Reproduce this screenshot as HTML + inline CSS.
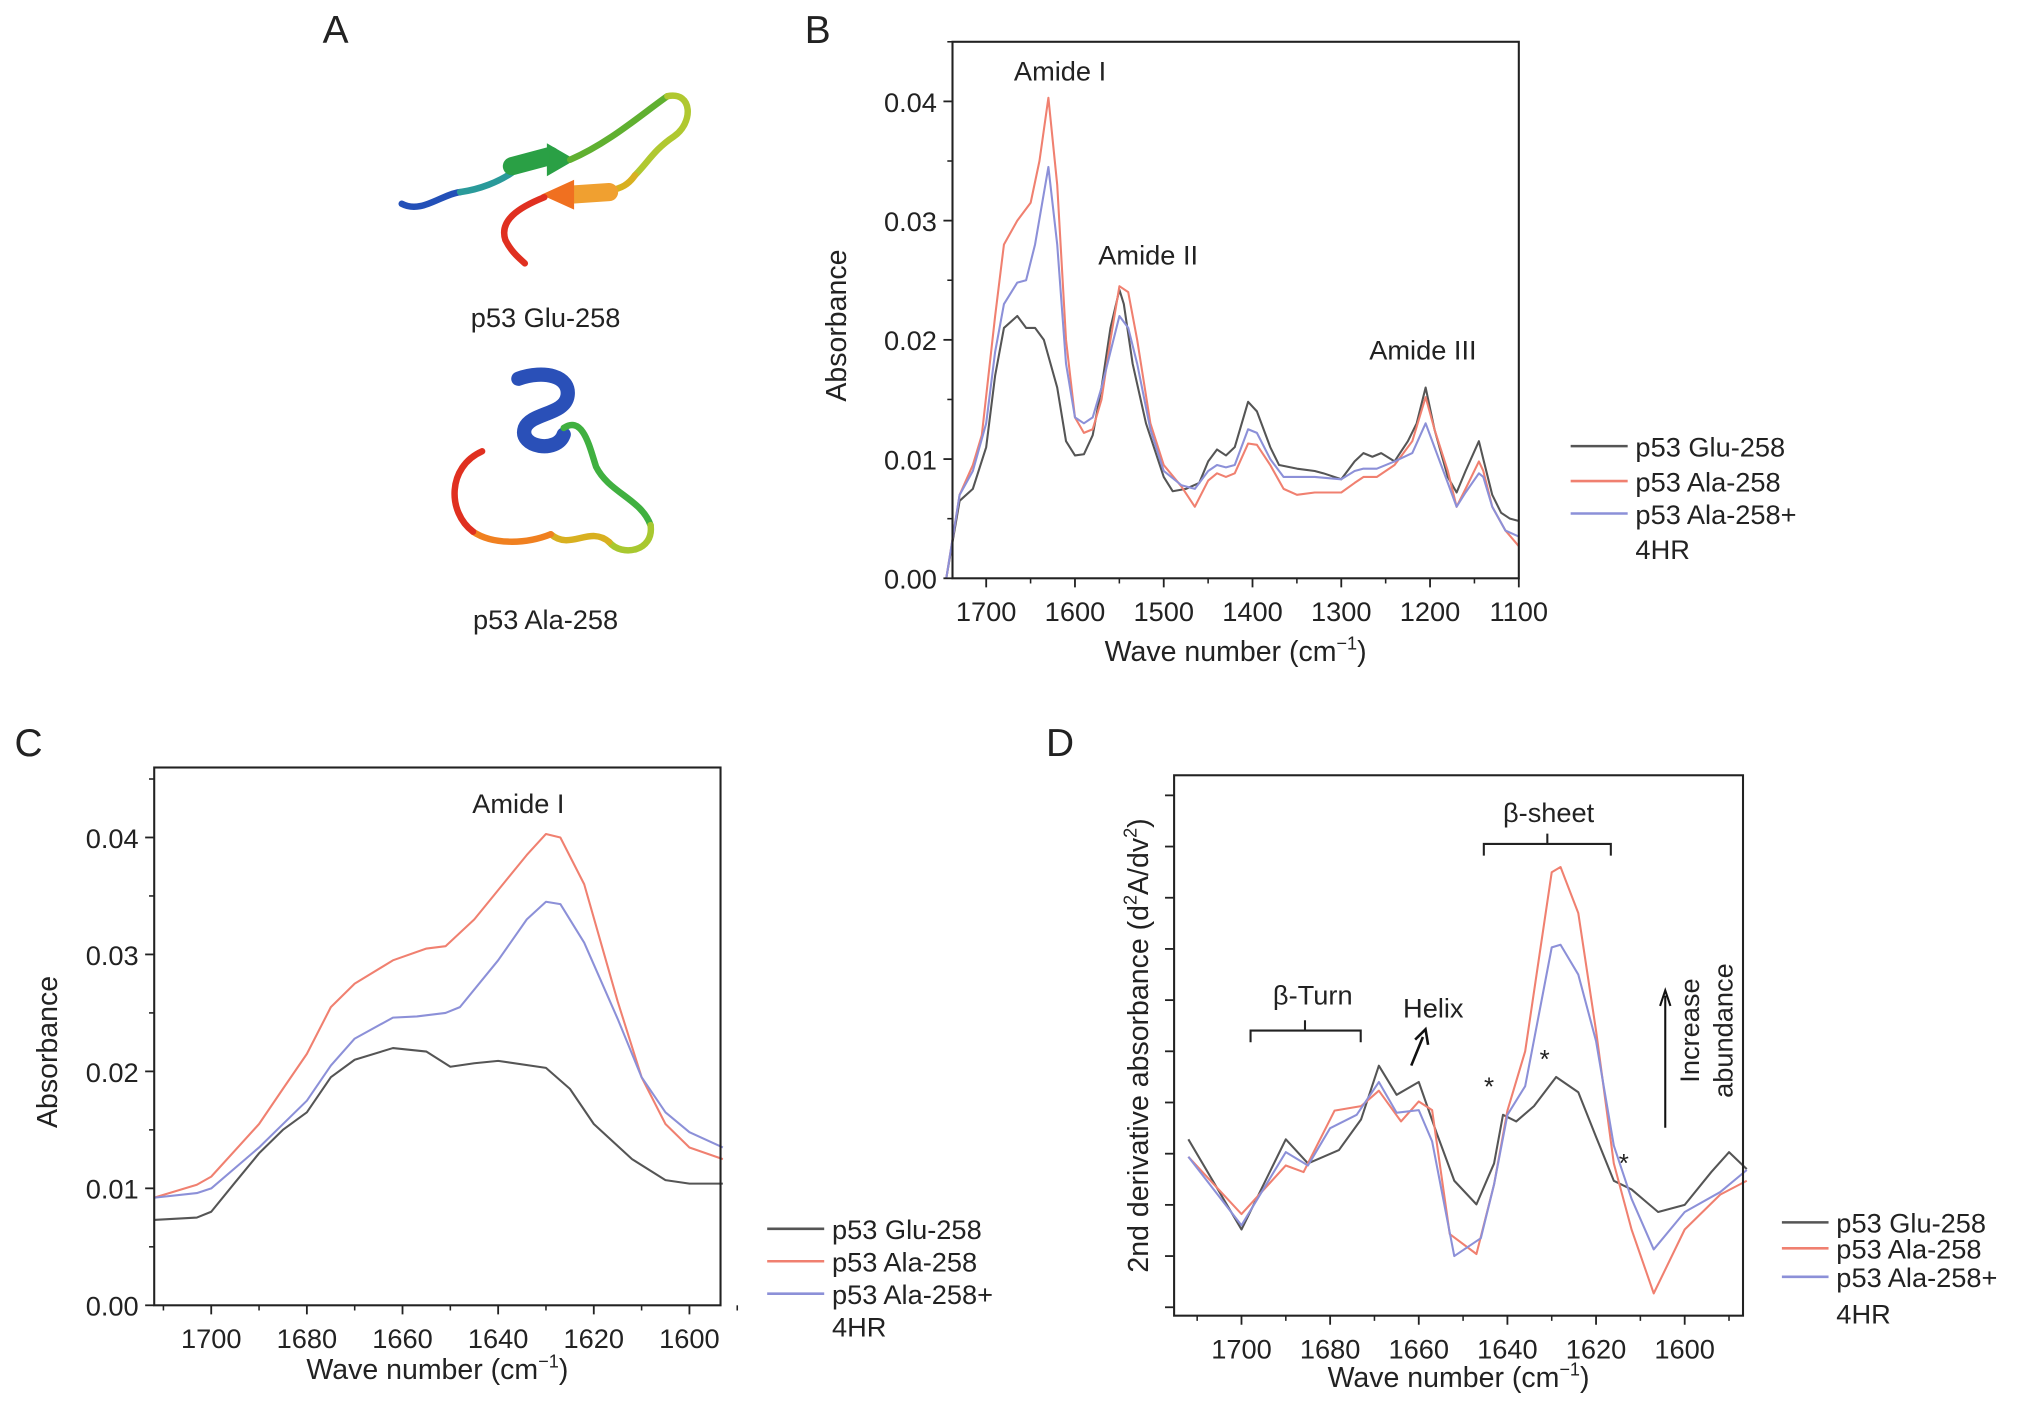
<!DOCTYPE html>
<html><head><meta charset="utf-8">
<style>
html,body{margin:0;padding:0;background:#fff;}
svg{display:block;font-family:"Liberation Sans","DejaVu Sans",sans-serif;}
text{fill:#222;}
</style></head>
<body>
<svg id="fig" width="2032" height="1408" viewBox="0 0 1568 1086" xmlns="http://www.w3.org/2000/svg">
<g id="panelA">
<text x="259" y="33" font-size="30" text-anchor="middle">A</text>
<g fill="none" stroke-linecap="round" stroke-width="5">
<path d="M310,157 C325,165 340,150 355,148" stroke="#2350b8"/>
<path d="M355,148 C370,146 385,140 395,133" stroke="#2a9a9a"/>
<path d="M395,128 L425,120" stroke="#2aa045" stroke-width="14"/>
<path d="M423,112 L442,123 L423,134 Z" fill="#2aa045" stroke="#2aa045" stroke-width="2"/>
<path d="M440,123 C470,110 495,88 515,74" stroke="#60b030"/>
<path d="M515,74 C535,70 535,95 520,105 C505,115 500,125 490,135" stroke="#b0c830"/>
<path d="M490,135 C485,142 480,145 470,147" stroke="#d8b020"/>
<path d="M470,148 L440,150" stroke="#f0a030" stroke-width="14"/>
<path d="M442,140 L420,150 L442,160 Z" fill="#f07020" stroke="#f07020" stroke-width="2"/>
<path d="M420,152 C400,160 385,170 390,185 C395,195 402,200 405,203" stroke="#e03020"/>
</g>
<text x="421" y="252" font-size="21" text-anchor="middle">p53 Glu-258</text>
<g fill="none" stroke-linecap="round" stroke-width="5">
<path d="M400,292 C420,285 440,290 438,305 C436,320 410,318 405,330 C400,345 430,350 435,335" stroke="#2a50b8" stroke-width="11"/>
<path d="M435,330 C450,320 455,345 460,360 C470,380 495,385 502,405" stroke="#40b040"/>
<path d="M502,405 C505,425 480,430 470,418" stroke="#a8c830"/>
<path d="M470,418 C455,405 440,425 425,412" stroke="#d8b020"/>
<path d="M425,412 C405,420 380,420 365,410" stroke="#f08020"/>
<path d="M365,410 C345,395 345,360 372,348" stroke="#e03020"/>
</g>
<text x="421" y="485" font-size="21" text-anchor="middle">p53 Ala-258</text>
</g>
<g id="gB"></g>
<g id="gC"></g>
<g id="gD"></g>
</svg>
<script>
// ---------- Panel B data ----------
const bWaveGlu = [1745,1730,1715,1700,1690,1680,1665,1655,1645,1635,1620,1610,1600,1590,1580,1570,1560,1550,1545,1535,1520,1500,1490,1475,1460,1450,1440,1430,1420,1405,1395,1380,1370,1350,1330,1320,1300,1285,1275,1265,1255,1240,1225,1215,1205,1195,1180,1170,1160,1145,1140,1130,1120,1110,1100];
const bGlu = [0,0.0065,0.0075,0.011,0.017,0.021,0.022,0.021,0.021,0.020,0.016,0.0115,0.0103,0.0104,0.012,0.016,0.021,0.0242,0.023,0.018,0.013,0.0085,0.0073,0.0075,0.008,0.0098,0.0108,0.0103,0.011,0.0148,0.014,0.011,0.0095,0.0092,0.009,0.0088,0.0083,0.0098,0.0105,0.0102,0.0105,0.0098,0.0115,0.013,0.016,0.0125,0.0085,0.0072,0.009,0.0115,0.010,0.007,0.0055,0.005,0.0048];
const bWaveAla = [1745,1730,1715,1705,1690,1680,1665,1650,1640,1630,1620,1610,1600,1590,1580,1570,1560,1550,1540,1530,1515,1500,1480,1465,1450,1440,1430,1420,1405,1395,1380,1365,1350,1330,1300,1285,1275,1260,1240,1220,1205,1195,1180,1170,1160,1145,1140,1130,1115,1100];
const bAla = [0,0.007,0.0095,0.012,0.022,0.028,0.030,0.0315,0.035,0.0403,0.033,0.020,0.0135,0.0122,0.0125,0.015,0.020,0.0245,0.024,0.020,0.013,0.0095,0.0077,0.006,0.0082,0.0088,0.0085,0.0088,0.0113,0.0112,0.0095,0.0075,0.007,0.0072,0.0072,0.008,0.0085,0.0085,0.0095,0.0115,0.0152,0.0125,0.009,0.006,0.0075,0.0098,0.009,0.006,0.004,0.0027];
const bWaveHr = [1745,1730,1715,1700,1690,1680,1665,1655,1645,1630,1620,1610,1600,1590,1580,1570,1560,1550,1540,1530,1515,1500,1480,1465,1450,1440,1430,1420,1405,1395,1380,1365,1350,1330,1300,1285,1275,1260,1240,1220,1205,1195,1180,1170,1160,1145,1140,1130,1115,1100];
const bHr = [0,0.007,0.009,0.013,0.019,0.023,0.0248,0.025,0.028,0.0345,0.028,0.018,0.0135,0.013,0.0135,0.016,0.019,0.022,0.021,0.018,0.0125,0.009,0.0078,0.0075,0.009,0.0095,0.0093,0.0095,0.0125,0.0122,0.010,0.0085,0.0085,0.0085,0.0083,0.009,0.0092,0.0092,0.0098,0.0105,0.013,0.011,0.008,0.006,0.0072,0.0088,0.0085,0.006,0.004,0.0035];
const bXTicks = [1700,1600,1500,1400,1300,1200,1100];
const bYTicks = [0,0.01,0.02,0.03,0.04];
const bYTickLabels = ["0.00","0.01","0.02","0.03","0.04"];
// ---------- Panel C data ----------
const cWaveGlu = [1712,1703,1700,1695,1690,1685,1680,1675,1670,1662,1655,1650,1645,1640,1630,1625,1620,1612,1605,1600,1593];
const cGlu = [0.0073,0.0075,0.008,0.0105,0.013,0.015,0.0165,0.0195,0.021,0.022,0.0217,0.0204,0.0207,0.0209,0.0203,0.0185,0.0155,0.0125,0.0107,0.0104,0.0104];
const cWaveAla = [1712,1703,1700,1690,1685,1680,1675,1670,1662,1655,1651,1645,1640,1634,1630,1627,1622,1615,1610,1605,1600,1593];
const cAla = [0.0092,0.0103,0.011,0.0155,0.0185,0.0215,0.0255,0.0275,0.0295,0.0305,0.0307,0.033,0.0355,0.0385,0.0403,0.040,0.036,0.026,0.0195,0.0155,0.0135,0.0125];
const cWaveHr = [1712,1703,1700,1690,1680,1675,1670,1662,1657,1651,1648,1640,1634,1630,1627,1622,1615,1610,1605,1600,1593];
const cHr = [0.0092,0.0096,0.010,0.0135,0.0175,0.0205,0.0228,0.0246,0.0247,0.025,0.0255,0.0295,0.033,0.0345,0.0343,0.031,0.0245,0.0195,0.0165,0.0148,0.0135];
const cXTicks = [1700,1680,1660,1640,1620,1600];
const cYTicks = [0,0.01,0.02,0.03,0.04];
const cYTickLabels = ["0.00","0.01","0.02","0.03","0.04"];
// ---------- Panel D data (arbitrary units) ----------
const dWaveGlu = [1712,1700,1690,1685,1678,1673,1669,1665,1660,1656,1652,1647,1643,1641,1638,1634,1629,1624,1620,1616,1612,1606,1600,1594,1590,1586];
const dGlu = [0.28,-1.48,0.28,-0.19,0.07,0.67,1.72,1.15,1.4,0.41,-0.53,-0.99,-0.19,0.76,0.63,0.93,1.5,1.2,0.33,-0.53,-0.7,-1.14,-1.0,-0.36,0.03,-0.3];
const dWaveAla = [1712,1700,1690,1686,1679,1673,1669,1664,1660,1657,1653,1647,1643,1640,1636,1630,1628,1624,1620,1616,1612,1607,1600,1592,1586];
const dAla = [-0.06,-1.18,-0.23,-0.36,0.84,0.93,1.23,0.63,1.02,0.85,-1.57,-1.96,-0.6,0.84,2.0,5.5,5.6,4.7,2.4,-0.19,-1.48,-2.73,-1.48,-0.8,-0.53];
const dWaveHr = [1712,1700,1690,1685,1680,1674,1669,1665,1660,1657,1652,1646,1643,1640,1636,1630,1628,1624,1620,1616,1612,1607,1600,1592,1586];
const dHr = [-0.06,-1.4,0.03,-0.23,0.5,0.76,1.4,0.8,0.85,0.24,-2.0,-1.65,-0.6,0.76,1.32,4.03,4.08,3.5,2.2,0.16,-0.88,-1.87,-1.14,-0.75,-0.32];
const dXTicks = [1700,1680,1660,1640,1620,1600];
const dYTicks = [-3,-2,-1,0,1,2,3,4,5,6,7];

const NS = "http://www.w3.org/2000/svg";
const COL = {glu:"#555555", ala:"#f08070", hr:"#8c90d8"};
function mk(parent, tag, attrs, txt){
  const e = document.createElementNS(NS, tag);
  for (const k in attrs) e.setAttribute(k, attrs[k]);
  if (txt !== undefined) e.textContent = txt;
  parent.appendChild(e);
  return e;
}
function lin(d0,d1,r0,r1){ return v => r0 + (v-d0)/(d1-d0)*(r1-r0); }

function drawPanel(g, cfg){
  const {L,R,T,B,xs,ys} = cfg;
  // series
  cfg.series.forEach(s => {
    const pts = s.x.map((w,i)=> xs(w).toFixed(1)+","+ys(s.y[i]).toFixed(1)).join(" ");
    const pl = mk(g,"polyline",{points:pts,fill:"none",stroke:s.c,"stroke-width":1.6,"stroke-linejoin":"round"});
    
    
  });
  // frame
  const fr = mk(g,"rect",{x:L,y:T,width:R-L,height:B-T,fill:"none",stroke:"#222","stroke-width":1.6});
  
  
  // x ticks
  cfg.xTicks.forEach(v => {
    const x = xs(v);
    mk(g,"line",{x1:x,x2:x,y1:B,y2:B+7,stroke:"#222","stroke-width":1.4});
    const t = mk(g,"text",{x:x,y:B+33,"font-size":21,"text-anchor":"middle"},String(v));
    
    
  });
  cfg.xMinor.forEach(v => { const x = xs(v); mk(g,"line",{x1:x,x2:x,y1:B,y2:B+4,stroke:"#222","stroke-width":1.2}); });
  // y ticks
  cfg.yTicks.forEach((v,i) => {
    const y = ys(v);
    mk(g,"line",{x1:L-7,x2:L,y1:y,y2:y,stroke:"#222","stroke-width":1.4});
    if (cfg.yLabels){
      const t = mk(g,"text",{x:L-12,y:y+8,"font-size":21,"text-anchor":"end"},cfg.yLabels[i]);
      
      
    }
  });
  (cfg.yMinor||[]).forEach(v => { const y = ys(v); mk(g,"line",{x1:L-4,x2:L,y1:y,y2:y,stroke:"#222","stroke-width":1.2}); });
  // axis titles
  const xt = mk(g,"text",{x:(L+R)/2,y:cfg.xTitleY,"font-size":22,"text-anchor":"middle"});
  
  
  xt.appendChild(document.createTextNode("Wave number (cm"));
  mk(xt,"tspan",{dy:-9,"font-size":14},"\u22121");
  mk(xt,"tspan",{dy:9},")");
  const yt = mk(g,"text",{x:0,y:0,"font-size":22,"text-anchor":"middle",transform:`translate(${cfg.yTitleX},${(T+B)/2+cfg.yTitleDy}) rotate(-90)`});
  
  
  if (cfg.yTitle === "D"){
    yt.appendChild(document.createTextNode("2nd derivative absorbance (d"));
    mk(yt,"tspan",{dy:-9,"font-size":14},"2");
    mk(yt,"tspan",{dy:9},"A/dv");
    mk(yt,"tspan",{dy:-9,"font-size":14},"2");
    mk(yt,"tspan",{dy:9},")");
  } else yt.appendChild(document.createTextNode("Absorbance"));
  // legend
  const lg = mk(g,"g",{});
  
  
  const names = ["p53 Glu-258","p53 Ala-258","p53 Ala-258+"];
  const cols = [COL.glu,COL.ala,COL.hr];
  cfg.legY.forEach((y,i)=>{
    const e = mk(lg,"g",{});
    
    
    mk(e,"line",{x1:cfg.legX,x2:cfg.legX+cfg.legW,y1:y,y2:y,stroke:cols[i],"stroke-width":2});
    mk(e,"text",{x:cfg.legX+cfg.legW+6,y:y+8,"font-size":21},names[i]);
  });
  mk(lg,"text",{x:cfg.legX+cfg.legW+6,y:cfg.leg4+8,"font-size":21},"4HR");
  // panel letter
  const pl = mk(g,"text",{x:cfg.letterX,y:cfg.letterY,"font-size":30,"text-anchor":"middle"},cfg.letter);
  
  
}
function range(a,b,s){ const r=[]; for(let v=a; s>0? v<=b+1e-9 : v>=b-1e-9; v+=s) r.push(+v.toFixed(4)); return r; }

// Panel B
(function(){
  const g = document.getElementById("gB");
  const L=735,R=1172,T=32,B=446;
  const xs = lin(1700,1100,761,1172), ys = lin(0,0.04,446,78);
  drawPanel(g,{L,R,T,B,xs,ys,
    series:[{name:"line-glu-258",x:bWaveGlu,y:bGlu,c:COL.glu},{name:"line-ala-258",x:bWaveAla,y:bAla,c:COL.ala},{name:"line-ala-258-4hr",x:bWaveHr,y:bHr,c:COL.hr}],
    xTicks:bXTicks, xMinor:range(1650,1150,-100), yTicks:bYTicks, yLabels:bYTickLabels, yMinor:[0.005,0.015,0.025,0.035,0.045],
    xTitleY:510, yTitleX:653, yTitleDy:12, yTitle:"B",
    legX:1212,legW:44,legY:[344,371,396],leg4:423, letter:"B", letterX:631, letterY:33});
  const a = [["Amide I",818,62,"annotation-amide-i"],["Amide II",886,204,"annotation-amide-ii"],["Amide III",1098,277,"annotation-amide-iii"]];
  a.forEach(s=>{ const t=mk(g,"text",{x:s[1],y:s[2],"font-size":21,"text-anchor":"middle"},s[0]);
    
     });
})();
// Panel C
(function(){
  const g = document.getElementById("gC");
  const L=119,R=556,T=592,B=1007;
  const xs = lin(1700,1600,163,532), ys = lin(0,0.04,1007,646);
  drawPanel(g,{L,R,T,B,xs,ys,
    series:[{name:"line-glu-258",x:cWaveGlu,y:cGlu,c:COL.glu},{name:"line-ala-258",x:cWaveAla,y:cAla,c:COL.ala},{name:"line-ala-258-4hr",x:cWaveHr,y:cHr,c:COL.hr}],
    xTicks:cXTicks, xMinor:[1710,1690,1670,1650,1630,1610,1590], yTicks:cYTicks, yLabels:cYTickLabels, yMinor:[0.005,0.015,0.025,0.035,0.045],
    xTitleY:1064, yTitleX:44, yTitleDy:12, yTitle:"C",
    legX:592,legW:44,legY:[948,973,998],leg4:1023, letter:"C", letterX:22, letterY:583});
  const t=mk(g,"text",{x:400,y:627,"font-size":21,"text-anchor":"middle"},"Amide I");
  
  
})();
// Panel D
(function(){
  const g = document.getElementById("gD");
  const L=906,R=1345,T=598,B=1015;
  const xs = lin(1700,1600,958,1300), ys = lin(0,1,890,850.5);
  drawPanel(g,{L,R,T,B,xs,ys,
    series:[{name:"line-glu-258",x:dWaveGlu,y:dGlu,c:COL.glu},{name:"line-ala-258",x:dWaveAla,y:dAla,c:COL.ala},{name:"line-ala-258-4hr",x:dWaveHr,y:dHr,c:COL.hr}],
    xTicks:dXTicks, xMinor:[1710,1690,1670,1650,1630,1610,1590], yTicks:dYTicks, yLabels:null,
    xTitleY:1070, yTitleX:886, yTitleDy:0, yTitle:"D",
    legX:1375,legW:36,legY:[943,963,985],leg4:1013, letter:"D", letterX:818, letterY:583});
  const ann = [["\u03b2-sheet",1195,634,"annotation-beta-sheet"],["\u03b2-Turn",1013,775,"annotation-beta-turn"],["Helix",1106,785,"annotation-helix"]];
  ann.forEach(s=>{ const t=mk(g,"text",{x:s[1],y:s[2],"font-size":21,"text-anchor":"middle"},s[0]);
    
     });
  const br1 = mk(g,"path",{d:"M1145,660 L1145,651 L1243,651 L1243,660 M1194,651 L1194,643",fill:"none",stroke:"#222","stroke-width":1.6});
  
  
  const br2 = mk(g,"path",{d:"M965,804 L965,795 L1050,795 L1050,804 M1007,795 L1007,787",fill:"none",stroke:"#222","stroke-width":1.6});
  
  
  const ha = mk(g,"path",{d:"M1089,822 L1098,800 M1092,802 L1100,794 L1102,806",fill:"none",stroke:"#111","stroke-width":2});
  
  
  [[1149,845],[1192,824],[1253,904]].forEach(p=>{
    const s=mk(g,"text",{x:p[0],y:p[1],"font-size":20,"text-anchor":"middle",fill:"#555"},"*");
    
    
  });
  const ua = mk(g,"path",{d:"M1285,870 L1285,768 M1281,776 L1285,764 L1289,776",fill:"none",stroke:"#111","stroke-width":1.6});
  
  
  const it = mk(g,"text",{x:0,y:0,"font-size":21,"text-anchor":"middle",transform:"translate(1311,795) rotate(-90)"},"Increase");
  
  
  mk(g,"text",{x:0,y:0,"font-size":21,"text-anchor":"middle",transform:"translate(1337,795) rotate(-90)"},"abundance");
})();
</script>
</body></html>
